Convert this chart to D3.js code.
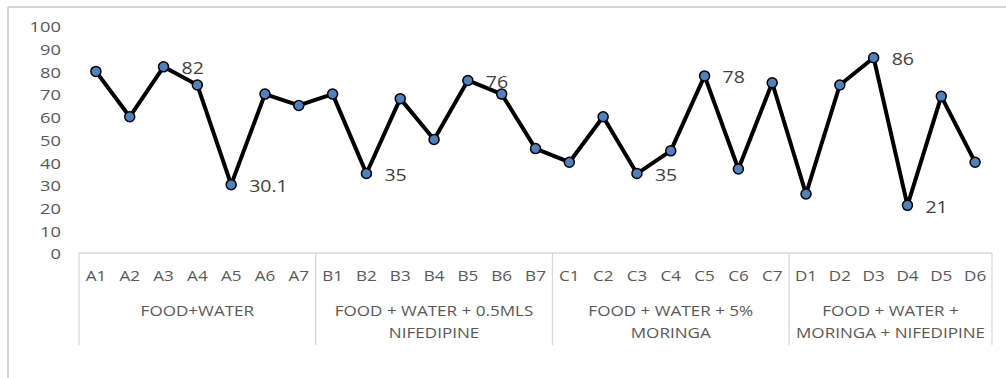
<!DOCTYPE html>
<html><head><meta charset="utf-8">
<script src="https://cdn.jsdelivr.net/npm/d3@7"></script>
<style>body{margin:0;background:#fff}svg{display:block}text{font-family:"Open Sans",sans-serif}</style>
</head><body><svg id="c" width="1006" height="378"></svg>
<script>
const categories = ["A1","A2","A3","A4","A5","A6","A7","B1","B2","B3","B4","B5","B6","B7","C1","C2","C3","C4","C5","C6","C7","D1","D2","D3","D4","D5","D6"];
const values = [80,60,82,74,30.1,70,65,70,35,68,50,76,70,46,40,60,35,45,78,37,75,26,74,86,21,69,40];
const groupNames = [["FOOD+WATER"],["FOOD + WATER + 0.5MLS","NIFEDIPINE"],["FOOD + WATER + 5%","MORINGA"],["FOOD + WATER +","MORINGA + NIFEDIPINE"]];
const groupSizes = [7,7,7,6];
const labelled = ["A3","A5","B2","B5","C3","C5","D3","D4"];
const yTicks = [0,10,20,30,40,50,60,70,80,90,100];

const svg = d3.select("#c");
const SX = 1.22;
const x = d3.scaleBand().domain(categories).range([79, 992]).padding(0);
const y = d3.scaleLinear().domain([0, 100]).range([253, 26]);
const cx = c => x(c) + x.bandwidth() / 2;

function txt(g, tx, ty, s, size, anchor, color) {
  return g.append("text").attr("transform", `translate(${tx},${ty}) scale(${SX},1)`)
    .attr("text-anchor", anchor).attr("dominant-baseline", "central")
    .attr("font-size", size).attr("fill", color).text(s);
}

// frame (left and top edges visible)
svg.append("line").attr("x1", 8).attr("x2", 8).attr("y1", 7).attr("y2", 378)
  .attr("stroke", "#d6d6d6").attr("stroke-width", 2);
svg.append("line").attr("x1", 8).attr("x2", 1006).attr("y1", 7).attr("y2", 7)
  .attr("stroke", "#d6d6d6").attr("stroke-width", 2);

// y axis labels
const ya = svg.append("g").attr("transform", "translate(61,0)")
  .call(d3.axisLeft(y).tickValues(yTicks).tickSize(0).tickPadding(0));
ya.select(".domain").remove();
ya.selectAll("text")
  .attr("x", 0).attr("dy", null)
  .attr("transform", `scale(${SX},1)`)
  .attr("dominant-baseline", "central")
  .attr("font-size", 15).attr("fill", "#595959").attr("font-family", "Open Sans");

// category axis
const ax = svg.append("g");
ax.append("line").attr("x1", 79).attr("x2", 992).attr("y1", y(0)).attr("y2", y(0))
  .attr("stroke", "#d9d9d9").attr("stroke-width", 1.3);
let start = 0;
const bounds = [];
groupSizes.forEach((n, i) => {
  const c0 = categories[start], c1 = categories[start + n - 1];
  const xl = x(c0), xr = x(c1) + x.bandwidth();
  bounds.push(xl); if (i === groupSizes.length - 1) bounds.push(xr);
  const mid = (xl + xr) / 2;
  groupNames[i].forEach((s, k) => txt(ax, mid, 311 + k * 22, s, 14, "middle", "#595959"));
  start += n;
});
bounds.forEach(b => ax.append("line").attr("x1", b).attr("x2", b).attr("y1", y(0)).attr("y2", 345)
  .attr("stroke", "#d9d9d9").attr("stroke-width", 1.3));
categories.forEach(c => txt(ax, cx(c), 276, c, 14, "middle", "#595959"));

// line
const data = categories.map((c, i) => ({c, v: values[i]}));
svg.append("path").datum(data)
  .attr("d", d3.line().x(d => cx(d.c)).y(d => y(d.v)))
  .attr("fill", "none").attr("stroke", "#000").attr("stroke-width", 4).attr("stroke-linejoin", "round");
svg.selectAll("circle.m").data(data).enter().append("circle")
  .attr("cx", d => cx(d.c)).attr("cy", d => y(d.v)).attr("r", 5)
  .attr("fill", "#4f81bd").attr("stroke", "#000").attr("stroke-width", 1.5);

// data labels
data.filter(d => labelled.includes(d.c)).forEach(d =>
  txt(svg, cx(d.c) + 18, y(d.v) + 1, String(d.v), 16, "start", "#404040"));
</script></body></html>
